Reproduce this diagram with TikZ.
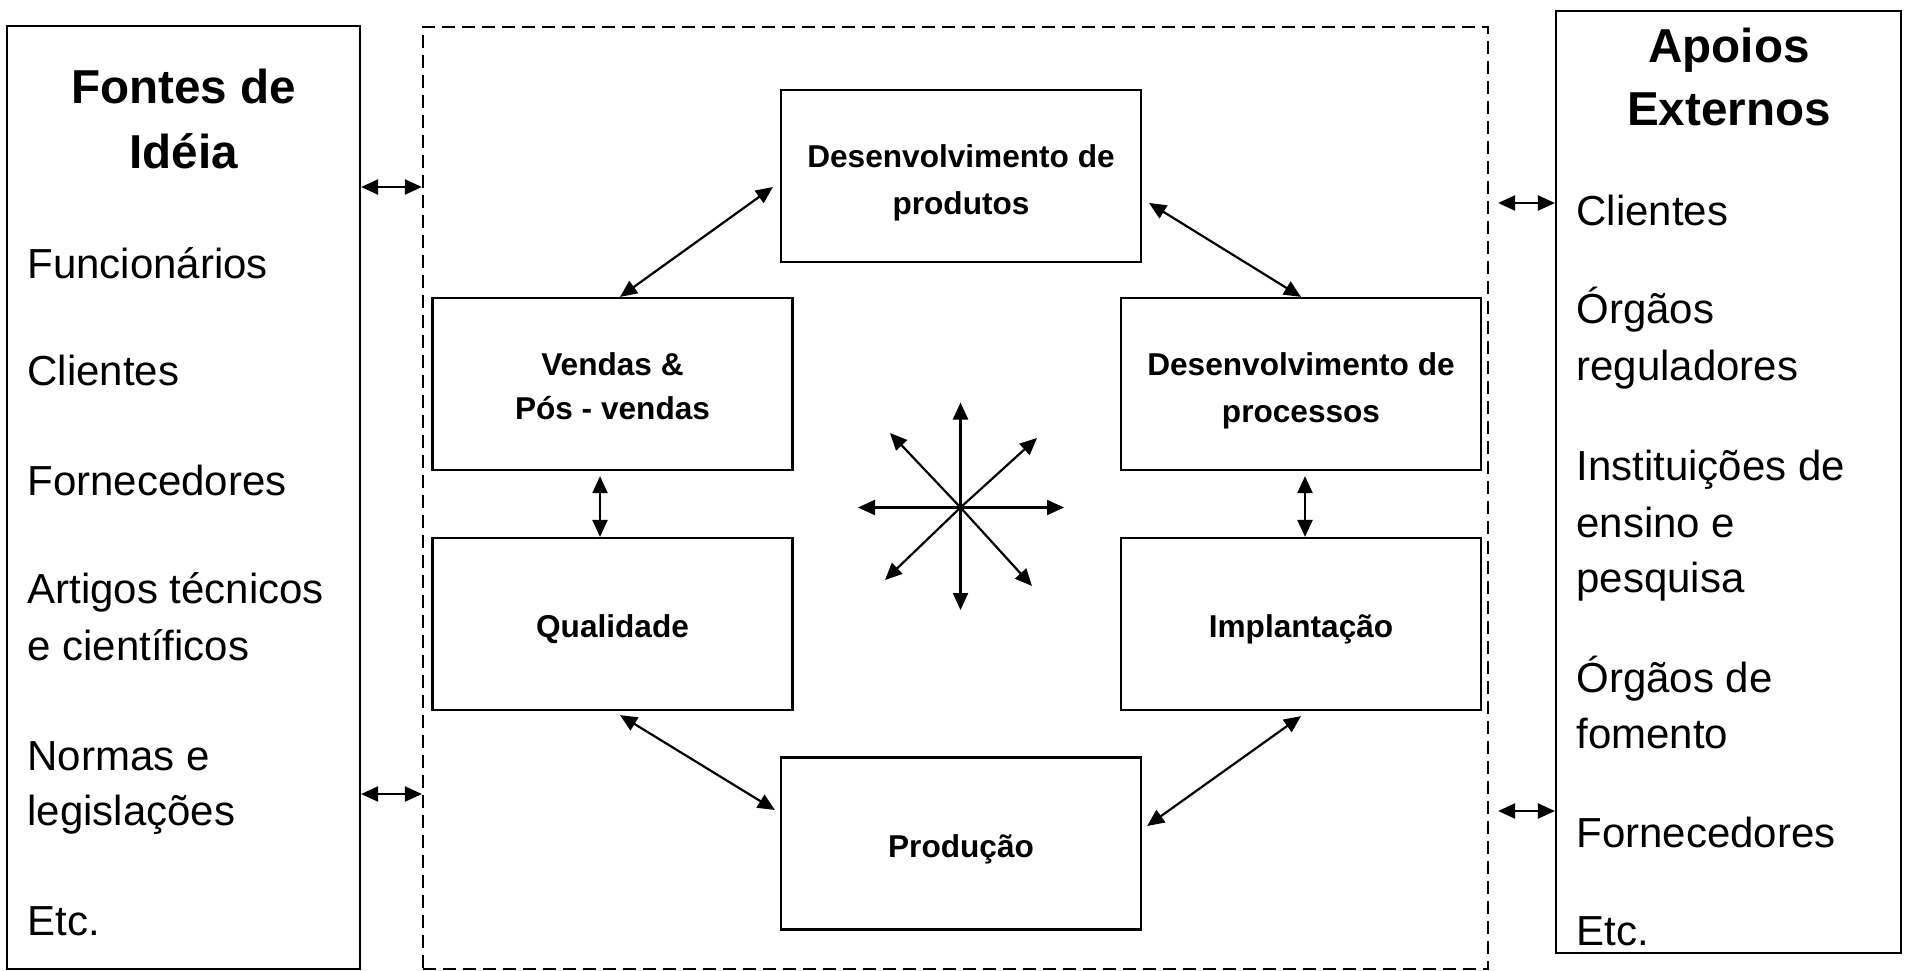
\documentclass[tikz,border=0pt]{standalone}
\usepackage{fontspec}
\setmainfont{Liberation Sans}
\usetikzlibrary{arrows.meta,calc}
\begin{document}
\begin{tikzpicture}[x=0.5pt,y=-0.5pt,
  box/.style={draw, line width=1.1pt, inner sep=0pt, minimum width=180pt, minimum height=86pt},
  outer/.style={draw, line width=1.1pt, inner sep=0pt},
  dashbox/.style={draw, line width=1.1pt, inner sep=0pt, dash pattern=on 6.5pt off 3.5pt},
  tip/.tip={Triangle[length=8.5pt,width=7.5pt]},
  dbl/.style={line width=1.1pt, tip-tip},
  one/.style={line width=1.1pt, -tip},
  body/.style={font=\fontsize{21}{25}\selectfont, inner sep=0pt, anchor=base west},
  head/.style={font=\bfseries\fontsize{23.8}{28}\selectfont, inner sep=0pt, anchor=base},
  lbl/.style={font=\bfseries\fontsize{15.8}{19}\selectfont, inner sep=0pt, anchor=base}]
\useasboundingbox (0,0) rectangle (1905,970);

% outer frames
\node[outer, minimum width=176.5pt, minimum height=471.5pt] (fontes) at (183.5,497.5) {};
\node[outer, minimum width=172.5pt, minimum height=471pt] (apoios) at (1728.5,482) {};
\node[dashbox, minimum width=532.5pt, minimum height=471pt] (core) at (955.5,498) {};

% left column text
\node[head] (fh1) at (183.5,103) {Fontes de};
\node[head] (fh2) at (183.5,168) {Idéia};
\node[body] (f1) at (27,278) {Funcionários};
\node[body] (f2) at (27,385) {Clientes};
\node[body] (f3) at (27,495) {Fornecedores};
\node[body] (f4) at (27,603) {Artigos técnicos};
\node[body] (f5) at (27,660) {e científicos};
\node[body] (f6) at (27,770) {Normas e};
\node[body] (f7) at (27,825) {legislações};
\node[body] (f8) at (27,935) {Etc.};

% right column text
\node[head] (ah1) at (1729,62) {Apoios};
\node[head] (ah2) at (1729,125) {Externos};
\node[body] (a1) at (1576,225) {Clientes};
\node[body] (a2) at (1576,323) {Órgãos};
\node[body] (a3) at (1576,380) {reguladores};
\node[body] (a4) at (1576,480) {Instituições de};
\node[body] (a5) at (1576,537) {ensino e};
\node[body] (a6) at (1576,592) {pesquisa};
\node[body] (a7) at (1576,692) {Órgãos de};
\node[body] (a8) at (1576,748) {fomento};
\node[body] (a9) at (1576,847) {Fornecedores};
\node[body] (a10) at (1576,945) {Etc.};

% inner boxes
\node[box] (dprod) at (961,176) {};
\node[box] (vendas) at (612.5,384) {};
\node[box] (dproc) at (1301,384) {};
\node[box] (qual) at (612.5,624) {};
\node[box] (impl) at (1301,624) {};
\node[box] (prod) at (961,843.5) {};

% inner labels
\node[lbl] (t1) at (961,167) {Desenvolvimento de};
\node[lbl] (t2) at (961,214) {produtos};
\node[lbl] (t3) at (612.5,375) {Vendas \&};
\node[lbl] (t4) at (612.5,419) {Pós - vendas};
\node[lbl] (t5) at (1301,375) {Desenvolvimento de};
\node[lbl] (t6) at (1301,422) {processos};
\node[lbl] (t7) at (612.5,637) {Qualidade};
\node[lbl] (t8) at (1301,637) {Implantação};
\node[lbl] (t9) at (961,857) {Produção};

% side arrows
\coordinate (cr) at ($(core.east)+(9,0)$);
\draw[dbl] (fontes.east |- 0,187) -- (core.west |- 0,187);
\draw[dbl] (fontes.east |- 0,794) -- (core.west |- 0,794);
\draw[dbl] (cr |- 0,203) -- (apoios.west |- 0,203);
\draw[dbl] (cr |- 0,811) -- (apoios.west |- 0,811);

% inner arrows
\draw[dbl] (vendas.north -| 620,0) -- ($(dprod.west)+(-7,11)$);
\draw[dbl] ($(dprod.east)+(7,27)$) -- (dproc.north -| 1301,0);
\draw[dbl] ($(vendas.south)+(-12.5,5)$) -- (qual.north -| 600,0);
\draw[dbl] ($(dproc.south)+(4,5)$) -- (impl.north -| 1305,0);
\draw[dbl] ($(qual.south)+(7.5,4)$) -- ($(prod.west)+(-5,-33.5)$);
\draw[dbl] ($(impl.south)+(0,5)$) -- ($(prod.east)+(5,-17.5)$);

% star
\coordinate (hub) at (960.5,507.5);
\draw[one] (hub) -- (960.5,402.5);
\draw[one] (hub) -- (960.5,610);
\draw[one] (hub) -- (858,507.5);
\draw[one] (hub) -- (1064,507.5);
\draw[one] (hub) -- (890,433);
\draw[one] (hub) -- (1037,438);
\draw[one] (hub) -- (885,580);
\draw[one] (hub) -- (1032,586);
\end{tikzpicture}
\end{document}
